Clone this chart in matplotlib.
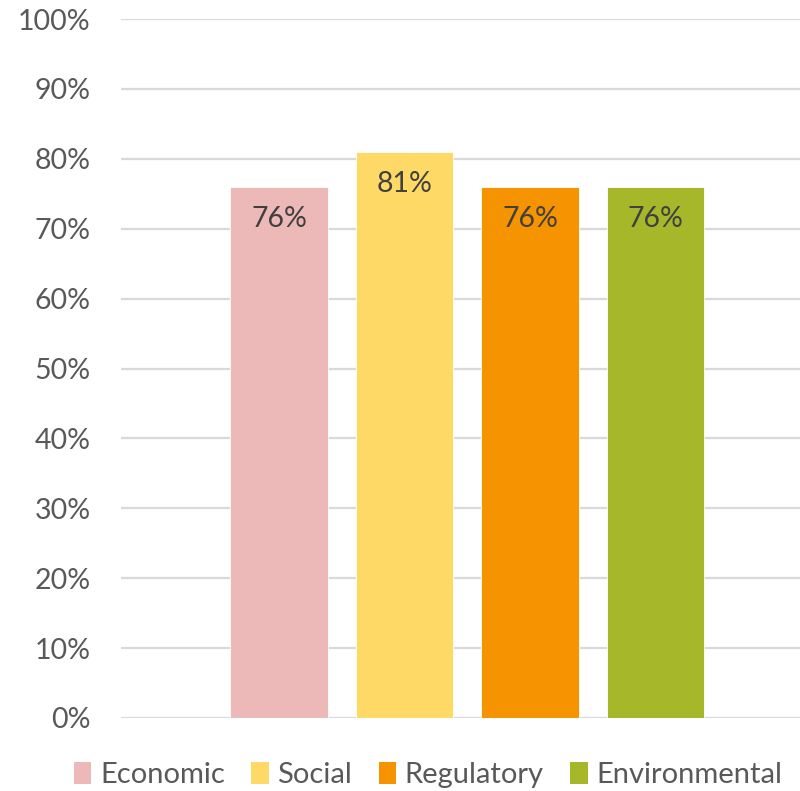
import matplotlib
matplotlib.use("Agg")
import matplotlib.pyplot as plt
from matplotlib.patches import Patch

categories = ["Economic", "Social", "Regulatory", "Environmental"]
values = [76, 81, 76, 76]
colors = ["#EDB8B8", "#FFD966", "#F59300", "#A6B82A"]

plt.rcParams['font.family'] = ['Lato', 'DejaVu Sans']

fig = plt.figure(figsize=(8, 7.91), dpi=100)
ax = fig.add_axes([121 / 800, 73 / 791, 679 / 800, 699 / 791])

x = list(range(len(categories)))
bars = ax.bar(x, values, width=0.78, color=colors, edgecolor="white", linewidth=0.6, zorder=3)

for xi, v in zip(x, values):
    ax.annotate(f"{v}%", (xi, v), xytext=(0, -23), textcoords="offset points",
                ha="center", va="center", fontsize=20.5, color="#404040", zorder=4)

ax.set_xlim(-1.259, 4.151)
ax.set_ylim(0, 100)
ax.set_yticks(range(0, 101, 10))
ax.set_yticklabels([f"{t}%" for t in range(0, 101, 10)])
ax.set_xticks([])
ax.tick_params(axis="y", length=0, pad=22, labelsize=20.5, labelcolor="#595959")
ax.grid(axis="y", color="#D9D9D9", linewidth=1.6, zorder=0)
for s in ax.spines.values():
    s.set_visible(False)

handles = [Patch(facecolor=c, label=n) for c, n in zip(colors, categories)]
fig.legend(handles=handles, loc="center", bbox_to_anchor=(0.535, 16 / 791),
           ncol=4, frameon=False, fontsize=21, handlelength=0.6, handleheight=0.8,
           handletextpad=0.3, columnspacing=0.9, labelcolor="#595959")

fig.savefig("out.png", dpi=100, facecolor="white")
